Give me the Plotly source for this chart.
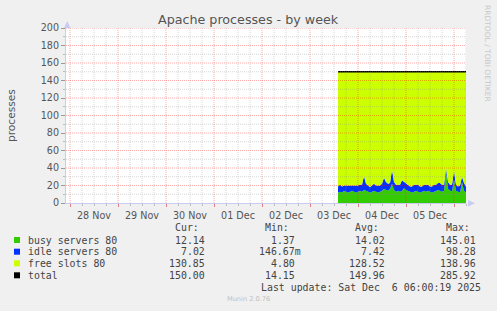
import plotly.graph_objects as go
import pandas as pd

# ---------------- data (hourly samples, Dec 3 14:00 -> Dec 6 06:00) ----------------
start_time = "2025-12-03 14:00"
busy = [12, 13, 12, 14, 13, 12, 13, 14, 13, 12, 13, 14, 13, 15, 14, 13, 12, 13, 14, 13,
        12, 13, 14, 16, 15, 14, 16, 22, 15, 13, 14, 13, 14, 17, 15, 14, 13, 12, 13, 14,
        13, 12, 13, 14, 13, 14, 13, 12, 13, 14, 15, 14, 13, 14, 36, 16, 14, 13, 27, 14,
        13, 12, 24, 14, 12]
idle = [7, 8, 7, 6, 7, 8, 7, 6, 7, 8, 7, 7, 8, 16, 8, 7, 6, 7, 8, 7,
        8, 7, 8, 13, 9, 8, 7, 16, 9, 8, 7, 8, 12, 7, 8, 7, 6, 7, 8, 7,
        8, 7, 6, 7, 8, 7, 6, 7, 8, 7, 8, 9, 8, 7, 4, 8, 7, 8, 10, 7,
        6, 8, 6, 9, 7]
total = [150, 150, 150, 150, 150, 150, 150, 150, 150, 150, 150, 150, 150, 150, 150, 150,
         150, 150, 150, 150, 150, 150, 150, 150, 150, 150, 150, 150, 150, 150, 150, 150,
         150, 150, 150, 150, 150, 150, 150, 150, 150, 150, 150, 150, 150, 150, 150, 150,
         150, 150, 150, 150, 150, 150, 150, 150, 150, 150, 150, 150, 150, 150, 150, 150, 150]

series_names = ["busy servers 80", "idle servers 80", "free slots 80", "total"]
series_colors = ["#33cc00", "#0033ff", "#ccff00", "#000000"]
cur_vals = ["12.14\u00a0", "7.02\u00a0", "130.85\u00a0", "150.00\u00a0"]
min_vals = ["1.37\u00a0", "146.67m", "4.80\u00a0", "14.15\u00a0"]
avg_vals = ["14.02\u00a0", "7.42\u00a0", "128.52\u00a0", "149.96\u00a0"]
max_vals = ["145.01\u00a0", "98.28\u00a0", "138.96\u00a0", "285.92\u00a0"]
headers = ["Cur:", "Min:", "Avg:", "Max:"]
last_update = "Last update: Sat Dec\u00a0\u00a06 06:00:19 2025"

x_start = "2025-11-27 22:00"
x_end = "2025-12-06 06:00"

times = pd.date_range(start_time, periods=len(busy), freq="h")
top_idle = [b + i for b, i in zip(busy, idle)]

# ---------------- geometry helpers ----------------
L, R, T, B = 66, 31, 28, 108
W, H = 497, 311
PW, PH = W - L - R, H - T - B


def px(x):
    return (x - L) / PW


def py(y):
    return (H - B - y) / PH


fig = go.Figure()
fig.add_trace(go.Scatter(x=times, y=busy, mode="lines", line=dict(width=0, color=series_colors[0]),
                         fill="tozeroy", fillcolor=series_colors[0], hoverinfo="skip"))
fig.add_trace(go.Scatter(x=times, y=top_idle, mode="lines", line=dict(width=0, color=series_colors[1]),
                         fill="tonexty", fillcolor=series_colors[1], hoverinfo="skip"))
fig.add_trace(go.Scatter(x=times, y=total, mode="lines", line=dict(width=0, color=series_colors[2]),
                         fill="tonexty", fillcolor=series_colors[2], hoverinfo="skip"))
fig.add_trace(go.Scatter(x=times, y=total, mode="lines", line=dict(width=1.6, color="#000000"),
                         hoverinfo="skip"))

shapes = []
# grid lines drawn above the areas (like rrdtool)
grid_minor = "rgba(140,140,140,0.35)"
grid_major = "rgba(255,0,0,0.33)"
for yv in range(10, 201, 10):
    shapes.append(dict(type="line", xref="paper", yref="y", x0=0, x1=1, y0=yv, y1=yv,
                       line=dict(color=grid_major if yv % 20 == 0 else grid_minor, width=1, dash="1px,1px"),
                       layer="above"))
for t in pd.date_range("2025-11-28 00:00", x_end, freq="6h"):
    major = t.hour == 0
    shapes.append(dict(type="line", xref="x", yref="paper", x0=t, x1=t, y0=0, y1=1,
                       line=dict(color=grid_major if major else grid_minor, width=1, dash="1px,1px"),
                       layer="above"))
# axis arrows
axc = "#c8cbf2"
shapes.append(dict(type="path", xref="paper", yref="paper",
                   path=f"M {px(64)} {py(28)} L {px(70.5)} {py(28)} L {px(67.2)} {py(21)} Z",
                   fillcolor=axc, line=dict(width=0)))
shapes.append(dict(type="path", xref="paper", yref="paper",
                   path=f"M {px(468)} {py(200)} L {px(468)} {py(206.5)} L {px(475)} {py(203.2)} Z",
                   fillcolor=axc, line=dict(width=0)))
# legend swatches
rows_y = [240, 251.7, 263.3, 275.3]
for c, yy in zip(series_colors, rows_y):
    shapes.append(dict(type="rect", xref="paper", yref="paper",
                       x0=px(14), x1=px(20), y0=py(yy - 3), y1=py(yy + 3),
                       fillcolor=c, line=dict(width=0)))

ann = []
mono = "DejaVu Sans Mono"
tc = "#444444"
fs = 9.9
ann.append(dict(text="Apache processes - by week", x=px(248.5), y=py(19.3), xref="paper", yref="paper",
                showarrow=False, xanchor="center", yanchor="middle",
                font=dict(family="DejaVu Sans", size=12.7, color="#555555")))
ann.append(dict(text="processes", x=px(11), y=py(115), xref="paper", yref="paper", textangle=-90,
                showarrow=False, xanchor="center", yanchor="middle",
                font=dict(family="DejaVu Sans", size=10.6, color="#555555")))
ann.append(dict(text="RRDTOOL / TOBI OETIKER", x=px(487.5), y=py(53.5), xref="paper", yref="paper",
                textangle=90, showarrow=False, xanchor="center", yanchor="middle",
                font=dict(family="DejaVu Sans", size=7.5, color="#c8c8c8")))
ann.append(dict(text="Munin 2.0.76", x=px(248), y=py(299.3), xref="paper", yref="paper",
                showarrow=False, xanchor="center", yanchor="middle",
                font=dict(family="DejaVu Sans", size=6.6, color="#c0c0c0")))

col_right = [212, 302, 392, 482.7]
for h, xr in zip(headers, col_right):
    ann.append(dict(text=h + "\u00a0\u00a0", x=px(xr), y=py(227.3), xref="paper", yref="paper",
                    showarrow=False, xanchor="right", yanchor="middle", borderpad=0,
                    font=dict(family=mono, size=fs, color=tc)))
for i, yy in enumerate(rows_y):
    ann.append(dict(text=series_names[i], x=px(26.7), y=py(yy), xref="paper", yref="paper",
                    showarrow=False, xanchor="left", yanchor="middle", borderpad=0,
                    font=dict(family=mono, size=fs, color=tc)))
    for vals, xr in zip([cur_vals, min_vals, avg_vals, max_vals], col_right):
        ann.append(dict(text=vals[i], x=px(xr), y=py(yy), xref="paper", yref="paper",
                        showarrow=False, xanchor="right", yanchor="middle", borderpad=0,
                        font=dict(family=mono, size=fs, color=tc)))
ann.append(dict(text=last_update, x=px(482.2), y=py(287.7), xref="paper", yref="paper",
                showarrow=False, xanchor="right", yanchor="middle", borderpad=0,
                font=dict(family=mono, size=fs, color=tc)))

fig.update_layout(
    width=W, height=H,
    margin=dict(l=L, r=R, t=T, b=B, pad=0),
    paper_bgcolor="#f0f0f0", plot_bgcolor="#ffffff",
    showlegend=False,
    shapes=shapes, annotations=ann,
    font=dict(family="DejaVu Sans", color="#555555"),
)
fig.update_xaxes(
    type="date", range=[x_start, x_end], showgrid=False, zeroline=False,
    tick0="2025-11-28", dtick=86400000, ticklabelmode="period", tickformat="%d %b",
    ticks="outside", ticklen=3, tickcolor="#e08080", tickwidth=1,
    minor=dict(dtick=21600000, ticks="outside", ticklen=2, tickcolor="#bbbbbb", showgrid=False),
    showline=True, linecolor=axc, linewidth=1,
    tickfont=dict(family="DejaVu Sans", size=9.6, color="#555555"),
)
fig.update_yaxes(
    range=[0, 200], dtick=20, showgrid=False, zeroline=False,
    ticks="outside", ticklen=4, tickcolor="#999999", tickwidth=1,
    minor=dict(dtick=10, ticks="outside", ticklen=2, tickcolor="#bbbbbb", showgrid=False),
    showline=True, linecolor=axc, linewidth=1,
    tickfont=dict(family="DejaVu Sans", size=9.6, color="#555555"),
)

fig.write_html("out.html")
